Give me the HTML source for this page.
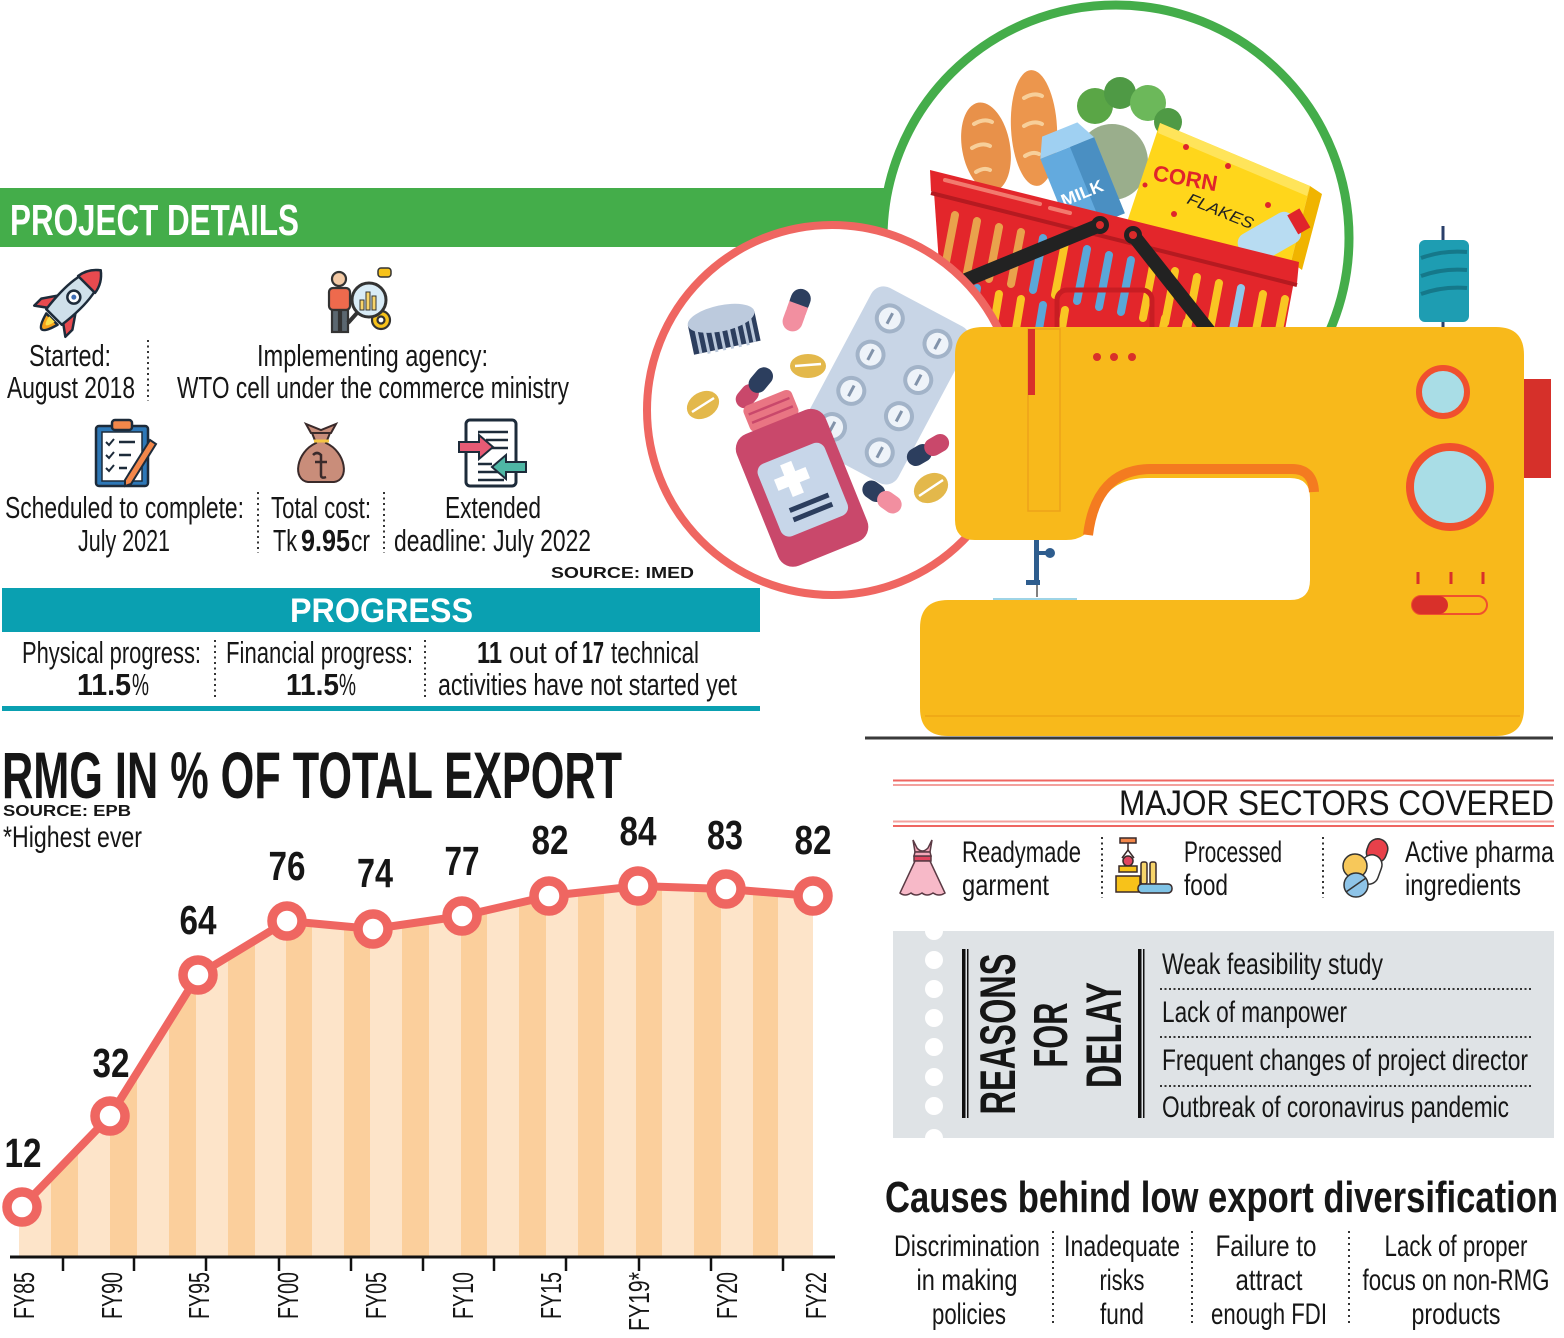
<!DOCTYPE html>
<html><head><meta charset="utf-8"><style>
html,body{margin:0;padding:0;background:#fff;}
svg{display:block;}
text{font-family:"Liberation Sans Narrow","Liberation Sans",sans-serif;fill:#161616;}
.b{font-weight:bold;}
.w{font-family:"Liberation Sans",sans-serif;}
</style></head><body>
<svg width="1564" height="1338" viewBox="0 0 1564 1338" xmlns="http://www.w3.org/2000/svg">
<defs>
<clipPath id="areaClip"><polygon points="19,1210 22,1207 110,1116 198,975 287,921 373,929 462,916 549,896 638,886 726,889 813,896 813,1256 19,1256"/></clipPath>
<clipPath id="coralClip"><circle cx="832" cy="410" r="181"/></clipPath>
<clipPath id="basketClip"><polygon points="931,190 1297,282 1284,335 944,335"/></clipPath>
</defs>

<!-- ===== PROJECT DETAILS header ===== -->
<rect x="0" y="188" width="886" height="59" fill="#44ad4a"/>
<text x="10" y="235" font-size="44" class="b" style="fill:#fff" textLength="289" lengthAdjust="spacingAndGlyphs">PROJECT DETAILS</text>

<!-- green circle -->
<circle cx="1116" cy="238" r="233" fill="#fff" stroke="#44ad4a" stroke-width="9"/>

<!-- basket contents (behind basket) -->
<ellipse cx="986" cy="147" rx="24" ry="45" transform="rotate(-10 986 147)" fill="#e8914a"/>
<path d="M974 124 q10 -6 18 -2 M972 148 q10 -6 18 -2 M976 172 q8 -5 14 -2" stroke="#f7cf9a" stroke-width="4" fill="none" stroke-linecap="round"/>
<ellipse cx="1034" cy="128" rx="23" ry="58" transform="rotate(-3 1034 128)" fill="#ec964d"/>
<path d="M1024 98 q10 -6 18 -2 M1024 126 q10 -6 18 -2 M1025 156 q8 -5 14 -2" stroke="#f7cf9a" stroke-width="4" fill="none" stroke-linecap="round"/>
<circle cx="1095" cy="106" r="18" fill="#5aa646"/>
<circle cx="1120" cy="93" r="16" fill="#4f9a45"/>
<circle cx="1148" cy="103" r="18" fill="#6cb85a"/>
<circle cx="1168" cy="122" r="14" fill="#4f9a45"/>
<ellipse cx="1112" cy="162" rx="36" ry="38" fill="#9aae8c"/>
<g transform="rotate(-22 1082 182)">
<rect x="1052" y="145" width="58" height="82" fill="#63aade"/>
<polygon points="1052,145 1110,145 1100,125 1062,125" fill="#9fd0f2"/>
<rect x="1084" y="145" width="26" height="82" fill="#4a8fc2"/>
<text x="1056" y="198" font-size="17" class="b w" style="fill:#fff" textLength="44" lengthAdjust="spacingAndGlyphs">MILK</text>
</g>
<polygon points="1160,123 1310,186 1291,262 1127,222" fill="#ffd61b"/>
<polygon points="1160,123 1310,186 1307,196 1158,133" fill="#ffe45a"/>
<polygon points="1310,186 1322,194 1302,270 1291,262" fill="#f0b400"/>
<text x="1152" y="180" font-size="22" class="b w" style="fill:#e0242b" transform="rotate(10 1152 180)" textLength="65" lengthAdjust="spacingAndGlyphs">CORN</text>
<text x="1186" y="203" font-size="16" font-style="italic" class="w" style="fill:#222" transform="rotate(22 1186 203)" textLength="70" lengthAdjust="spacingAndGlyphs">FLAKES</text>
<g fill="#e0242b"><circle cx="1186" cy="147" r="3"/><circle cx="1228" cy="166" r="3"/><circle cx="1145" cy="185" r="2.5"/><circle cx="1174" cy="214" r="3"/><circle cx="1268" cy="205" r="3"/></g>
<g transform="rotate(-30 1268 238)">
<rect x="1238" y="222" width="62" height="34" rx="10" fill="#b8dcf2"/>
<rect x="1296" y="228" width="14" height="22" fill="#e0242b"/>
</g>

<!-- basket -->
<polygon points="933,178 1296,270 1284,335 944,335" fill="#e3262b"/>
<g clip-path="url(#basketClip)" stroke-width="8" stroke-linecap="round">
 <line x1="955" y1="215" x2="945" y2="267" stroke="#e9a24c"/>
 <line x1="977" y1="221" x2="967" y2="273" stroke="#e9a24c"/>
 <line x1="999" y1="227" x2="989" y2="279" stroke="#e9a24c"/>
 <line x1="1021" y1="232" x2="1011" y2="284" stroke="#e9a24c"/>
 <line x1="1043" y1="238" x2="1033" y2="290" stroke="#5aa7d8"/>
 <line x1="1065" y1="243" x2="1055" y2="295" stroke="#f9c623"/>
 <line x1="1087" y1="249" x2="1077" y2="301" stroke="#5aa7d8"/>
 <line x1="1109" y1="255" x2="1099" y2="307" stroke="#5aa7d8"/>
 <line x1="1131" y1="260" x2="1121" y2="312" stroke="#5aa7d8"/>
 <line x1="1153" y1="266" x2="1143" y2="318" stroke="#f9c623"/>
 <line x1="1175" y1="271" x2="1165" y2="323" stroke="#f9c623"/>
 <line x1="1197" y1="277" x2="1187" y2="329" stroke="#f9c623"/>
 <line x1="1219" y1="283" x2="1209" y2="335" stroke="#f9c623"/>
 <line x1="1241" y1="288" x2="1231" y2="340" stroke="#8fc7ea"/>
 <line x1="1263" y1="294" x2="1253" y2="346" stroke="#f9c623"/>
 <line x1="1285" y1="299" x2="1275" y2="351" stroke="#f9c623"/>
 <line x1="955" y1="282" x2="947" y2="330" stroke="#f9c623"/>
 <line x1="977" y1="288" x2="969" y2="336" stroke="#5aa7d8"/>
 <line x1="999" y1="294" x2="991" y2="342" stroke="#f9c623"/>
 <line x1="1021" y1="299" x2="1013" y2="347" stroke="#f9c623"/>
 <line x1="1043" y1="305" x2="1035" y2="353" stroke="#5aa7d8"/>
 <line x1="1065" y1="310" x2="1057" y2="358" stroke="#f9c623"/>
 <line x1="1165" y1="318" x2="1157" y2="358" stroke="#f9c623"/>
 <line x1="1187" y1="322" x2="1179" y2="358" stroke="#f9c623"/>
</g>
<rect x="1057" y="290" width="95" height="50" rx="10" fill="none" stroke="#c81d23" stroke-width="5"/>
<polygon points="930,170 1299,262 1297,283 931,191" fill="#e3262b"/>
<line x1="931" y1="193" x2="1297" y2="285" stroke="#b51a20" stroke-width="4"/>
<line x1="945" y1="180" x2="1040" y2="204" stroke="#f27a6e" stroke-width="4" stroke-linecap="round"/>
<line x1="1050" y1="208" x2="1070" y2="213" stroke="#f27a6e" stroke-width="4" stroke-linecap="round"/>
<line x1="966" y1="280" x2="1100" y2="225" stroke="#222" stroke-width="14" stroke-linecap="round"/>
<line x1="1133" y1="235" x2="1212" y2="335" stroke="#222" stroke-width="14" stroke-linecap="round"/>
<circle cx="1100" cy="225" r="9" fill="#222"/><circle cx="1100" cy="225" r="4" fill="#d92b2b"/>
<circle cx="1133" cy="235" r="9" fill="#222"/><circle cx="1133" cy="235" r="4" fill="#d92b2b"/>

<!-- coral circle (on top of basket) -->
<circle cx="832" cy="410" r="185" fill="#fff" stroke="#ef6661" stroke-width="8"/>
<g clip-path="url(#coralClip)">
 <g transform="rotate(28 885 385)">
  <rect x="830" y="297" width="110" height="177" rx="14" fill="#c8d5e6"/>
  <g fill="#eef3f9" stroke="#a2b3c8" stroke-width="4">
   <circle cx="858" cy="324" r="13"/><circle cx="912" cy="324" r="13"/>
   <circle cx="858" cy="365" r="13"/><circle cx="912" cy="365" r="13"/>
   <circle cx="858" cy="406" r="13"/><circle cx="912" cy="406" r="13"/>
   <circle cx="858" cy="447" r="13"/><circle cx="912" cy="447" r="13"/>
  </g>
  <g stroke="#8293aa" stroke-width="3"><line x1="858" y1="318" x2="858" y2="330"/><line x1="912" y1="318" x2="912" y2="330"/><line x1="858" y1="359" x2="858" y2="371"/><line x1="912" y1="359" x2="912" y2="371"/><line x1="858" y1="400" x2="858" y2="412"/><line x1="912" y1="400" x2="912" y2="412"/><line x1="858" y1="441" x2="858" y2="453"/><line x1="912" y1="441" x2="912" y2="453"/></g>
 </g>
 <g transform="rotate(-12 724 332)">
  <rect x="690" y="318" width="68" height="30" fill="#2c3e5e"/>
  <g stroke="#b9c7da" stroke-width="3"><line x1="697" y1="324" x2="697" y2="348"/><line x1="705" y1="326" x2="705" y2="350"/><line x1="713" y1="326" x2="713" y2="350"/><line x1="721" y1="326" x2="721" y2="350"/><line x1="729" y1="326" x2="729" y2="350"/><line x1="737" y1="326" x2="737" y2="350"/><line x1="745" y1="326" x2="745" y2="350"/><line x1="752" y1="324" x2="752" y2="348"/></g>
  <ellipse cx="724" cy="318" rx="34" ry="13" fill="#bccadd"/>
 </g>
 <g transform="rotate(20 796 312)"><rect x="786" y="288" width="20" height="24" rx="10" fill="#2c3e5e"/><rect x="786" y="304" width="20" height="28" rx="10" fill="#f28fa0"/><rect x="786" y="304" width="20" height="8" fill="#f28fa0"/></g>
 <g transform="rotate(-50 755 387)"><rect x="730" y="378" width="26" height="18" rx="9" fill="#c9486b"/><rect x="750" y="378" width="28" height="18" rx="9" fill="#2c3e5e"/></g>
 <g transform="rotate(-30 928 450)"><rect x="905" y="441" width="26" height="18" rx="9" fill="#2c3e5e"/><rect x="925" y="441" width="26" height="18" rx="9" fill="#c9486b"/></g>
 <g transform="rotate(35 882 497)"><rect x="860" y="488" width="24" height="18" rx="9" fill="#2c3e5e"/><rect x="878" y="488" width="26" height="18" rx="9" fill="#f28fa0"/></g>
 <ellipse cx="808" cy="366" rx="18" ry="12" fill="#e3b84b"/><line x1="795" y1="366" x2="821" y2="364" stroke="#fff" stroke-width="2.5"/>
 <ellipse cx="703" cy="405" rx="17" ry="13" transform="rotate(-30 703 405)" fill="#e3b84b"/><line x1="692" y1="412" x2="714" y2="398" stroke="#fff" stroke-width="2.5"/>
 <ellipse cx="931" cy="488" rx="18" ry="14" transform="rotate(-30 931 488)" fill="#e3b84b"/><line x1="919" y1="496" x2="943" y2="480" stroke="#fff" stroke-width="2.5"/>
 <g transform="rotate(-22 797 478)">
  <rect x="772" y="392" width="52" height="28" rx="6" fill="#e97583"/>
  <g stroke="#c9486b" stroke-width="2.5"><line x1="776" y1="401" x2="820" y2="401"/><line x1="776" y1="410" x2="820" y2="410"/></g>
  <rect x="750" y="418" width="96" height="142" rx="16" fill="#c9486b"/>
  <rect x="762" y="452" width="72" height="78" rx="9" fill="#c7d6e9"/>
  <rect x="786" y="460" width="12" height="34" fill="#fff"/><rect x="775" y="471" width="34" height="12" fill="#fff"/>
  <rect x="778" y="503" width="42" height="5" fill="#2c3e5e"/><rect x="778" y="513" width="42" height="5" fill="#2c3e5e"/>
 </g>
</g>

<!-- spool -->
<line x1="1443" y1="226" x2="1443" y2="332" stroke="#2a3f6a" stroke-width="3"/>
<rect x="1419" y="240" width="50" height="82" rx="6" fill="#1e9db2"/>
<path d="M1421 258 q22 -8 46 -6 M1421 276 q22 -8 46 -6 M1421 294 q22 -8 46 -6" stroke="#15788a" stroke-width="4" fill="none"/>

<!-- sewing machine -->
<path d="M983 327 L1496 327 Q1524 327 1524 355 L1524 708 Q1524 736 1496 736 L948 736 Q920 736 920 708 L920 628 Q920 600 948 600 L1290 600 Q1310 600 1310 580 L1310 498 Q1310 478 1290 478 L1148 478 Q1104 478 1094 520 Q1088 540 1066 540 L975 540 Q955 540 955 520 L955 355 Q955 327 983 327 Z" fill="#f8b91b"/>
<path d="M1088 535 Q1096 470 1150 469 L1292 469 Q1313 469 1314 492" stroke="#f47b20" stroke-width="10" fill="none"/>
<rect x="1028" y="329" width="32" height="182" fill="none" stroke="#eea21a" stroke-width="1.5"/>
<rect x="1028" y="329" width="7" height="66" fill="#d9302a"/>
<line x1="925" y1="716" x2="1520" y2="716" stroke="#eea515" stroke-width="1.5"/>
<circle cx="1097" cy="357" r="4" fill="#d9302a"/><circle cx="1114" cy="357" r="4" fill="#d9302a"/><circle cx="1132" cy="357" r="4" fill="#d9302a"/>
<circle cx="1443" cy="392" r="24" fill="#a9dde6" stroke="#f0502e" stroke-width="6"/>
<circle cx="1450" cy="487" r="40" fill="#a9dde6" stroke="#f0502e" stroke-width="8"/>
<rect x="1524" y="379" width="27" height="99" fill="#d6302a"/>
<g stroke="#d9302a" stroke-width="3"><line x1="1418" y1="572" x2="1418" y2="584"/><line x1="1451" y1="572" x2="1451" y2="584"/><line x1="1483" y1="572" x2="1483" y2="584"/></g>
<rect x="1412" y="596" width="75" height="18" rx="9" fill="none" stroke="#f0502e" stroke-width="2"/>
<rect x="1412" y="596" width="36" height="18" rx="9" fill="#d9302a"/>
<rect x="1034" y="540" width="5" height="44" fill="#2e5d8e"/>
<line x1="1036" y1="553" x2="1048" y2="553" stroke="#2e5d8e" stroke-width="4"/>
<circle cx="1050" cy="553" r="5" fill="#2e5d8e"/>
<rect x="1026" y="580" width="14" height="5" fill="#2e5d8e"/>
<line x1="1037" y1="585" x2="1037" y2="597" stroke="#555" stroke-width="1.5"/>
<line x1="993" y1="599" x2="1077" y2="599" stroke="#9ed4e6" stroke-width="2"/>
<line x1="865" y1="738" x2="1553" y2="738" stroke="#3a3a3a" stroke-width="3"/>

<!-- ===== icons row 1 ===== -->
<g transform="translate(71 300) rotate(45)" stroke="#1d2b3a" stroke-width="2.5" stroke-linejoin="round">
 <path d="M-8 27 Q0 56 8 27 Z" fill="#f6a21b"/>
 <path d="M-4 27 Q0 44 4 27 Z" fill="#fbe04a" stroke="none"/>
 <path d="M-11 4 L-22 20 L-22 30 L-11 22 Z" fill="#e84a4f"/>
 <path d="M11 4 L22 20 L22 30 L11 22 Z" fill="#e84a4f"/>
 <path d="M0 -42 C15 -30 14 0 11 24 L-11 24 C-14 0 -15 -30 0 -42 Z" fill="#cfe0ea"/>
 <path d="M0 -42 C8 -36 11 -29 12 -22 L-12 -22 C-11 -29 -8 -36 0 -42 Z" fill="#e84a4f"/>
 <circle cx="0" cy="-4" r="6.5" fill="#fff"/>
 <circle cx="0" cy="-4" r="2.5" fill="#3e6db5" stroke="none"/>
</g>
<g stroke="#333" stroke-width="2.2">
 <circle cx="339" cy="279" r="7" fill="#f3c9a5"/>
 <rect x="329" y="288" width="21" height="22" rx="4" fill="#ee6a4d"/>
 <rect x="332" y="310" width="7" height="22" fill="#5b6770"/>
 <rect x="341" y="310" width="7" height="22" fill="#5b6770"/>
 <line x1="357" y1="313" x2="348" y2="323" stroke-width="4"/>
 <circle cx="381" cy="320" r="9" fill="#f7c21a"/>
 <circle cx="381" cy="320" r="3.5" fill="#fff"/>
 <circle cx="369" cy="300" r="17" fill="#d9ecf7" stroke-width="3"/>
 <rect x="378" y="268" width="13" height="9" rx="3" fill="#f7c21a" stroke-width="1.5"/>
</g>
<g fill="#f7d46a" stroke="#333" stroke-width="1"><rect x="360" y="300" width="4" height="10"/><rect x="366" y="292" width="4" height="18"/><rect x="372" y="296" width="4" height="14"/></g>

<!-- ===== text row 1 ===== -->
<text x="29" y="366" font-size="31" textLength="82" lengthAdjust="spacingAndGlyphs">Started:</text>
<text x="7" y="398" font-size="31" textLength="128" lengthAdjust="spacingAndGlyphs">August 2018</text>
<line x1="148" y1="340" x2="148" y2="401" stroke="#333" stroke-width="2" stroke-dasharray="2 3.5"/>
<text x="257" y="366" font-size="31" textLength="231" lengthAdjust="spacingAndGlyphs">Implementing agency:</text>
<text x="177" y="398" font-size="31" textLength="392" lengthAdjust="spacingAndGlyphs">WTO cell under the commerce ministry</text>

<!-- ===== icons row 2 ===== -->
<g stroke="#1d2b3a" stroke-width="2.5">
 <rect x="96" y="426" width="52" height="60" rx="3" fill="#2e78b7"/>
 <rect x="102" y="432" width="40" height="49" fill="#fff" stroke-width="1.5"/>
 <rect x="112" y="420" width="20" height="10" rx="3" fill="#f3874a"/>
 <path d="M106 442 l3 3 l5 -6 M106 455 l3 3 l5 -6 M106 468 l3 3 l5 -6" fill="none" stroke-width="2"/>
 <path d="M119 442 h16 M119 455 h12 M119 468 h8" fill="none" stroke-width="2.5"/>
 <path d="M150 440 L156 444 L131 484 L125 486 L125 480 Z" fill="#f3874a" stroke-width="2"/>
</g>
<g stroke="#3a2a2a" stroke-width="2">
 <path d="M311 433 L306 424 L321 430 L336 424 L331 433 Z" fill="#c98d7a"/>
 <path d="M312 433 L330 433 L326 443 C346 452 350 480 334 482 L308 482 C292 480 296 452 316 443 Z" fill="#c98d7a"/>
 <line x1="314" y1="441" x2="329" y2="441" stroke="#f4c542" stroke-width="3"/>
 <path d="M313 455 q4 -4 8 0 v20 q0 4 5 2 M315 462 h12" fill="none" stroke-width="2.5"/>
</g>
<g stroke="#1d2b3a" stroke-width="2.5">
 <rect x="466" y="420" width="50" height="66" rx="4" fill="#fff" stroke-width="3"/>
 <path d="M478 432 h30 M486 440 h22 M490 448 h18 M478 464 h14 M478 472 h22 M478 480 h26" fill="none"/>
 <path d="M459 442 h20 v-7 l14 12 l-14 12 v-7 h-20 Z" fill="#e75b75" stroke-width="2"/>
 <path d="M526 462 h-20 v-7 l-14 12 l14 12 v-7 h20 Z" fill="#4fb7a5" stroke-width="2"/>
</g>

<!-- ===== text row 2 ===== -->
<text x="5" y="518" font-size="31" textLength="239" lengthAdjust="spacingAndGlyphs">Scheduled to complete:</text>
<text x="78" y="551" font-size="31" textLength="92" lengthAdjust="spacingAndGlyphs">July 2021</text>
<line x1="258" y1="492" x2="258" y2="553" stroke="#333" stroke-width="2" stroke-dasharray="2 3.5"/>
<text x="271" y="518" font-size="31" textLength="100" lengthAdjust="spacingAndGlyphs">Total cost:</text>
<text x="273" y="551" font-size="31" textLength="24" lengthAdjust="spacingAndGlyphs">Tk</text>
<text x="301" y="551" font-size="31" class="b" textLength="49" lengthAdjust="spacingAndGlyphs">9.95</text>
<text x="351" y="551" font-size="31" textLength="19" lengthAdjust="spacingAndGlyphs">cr</text>
<line x1="384" y1="492" x2="384" y2="553" stroke="#333" stroke-width="2" stroke-dasharray="2 3.5"/>
<text x="445" y="518" font-size="31" textLength="96" lengthAdjust="spacingAndGlyphs">Extended</text>
<text x="394" y="551" font-size="31" textLength="197" lengthAdjust="spacingAndGlyphs">deadline: July 2022</text>
<text x="551" y="578" font-size="16" class="b w" textLength="143" lengthAdjust="spacingAndGlyphs">SOURCE: IMED</text>

<!-- ===== PROGRESS ===== -->
<rect x="2" y="588" width="758" height="44" fill="#0aa0b1"/>
<text x="290" y="622" font-size="34" class="b" style="fill:#fff" textLength="183" lengthAdjust="spacingAndGlyphs">PROGRESS</text>
<text x="22" y="663" font-size="31" textLength="179" lengthAdjust="spacingAndGlyphs">Physical progress:</text>
<text x="77" y="695" font-size="31" class="b" textLength="54" lengthAdjust="spacingAndGlyphs">11.5</text>
<text x="132" y="695" font-size="31" textLength="17" lengthAdjust="spacingAndGlyphs">%</text>
<line x1="215" y1="640" x2="215" y2="699" stroke="#333" stroke-width="2" stroke-dasharray="2 3.5"/>
<text x="226" y="663" font-size="31" textLength="187" lengthAdjust="spacingAndGlyphs">Financial progress:</text>
<text x="286" y="695" font-size="31" class="b" textLength="53" lengthAdjust="spacingAndGlyphs">11.5</text>
<text x="339" y="695" font-size="31" textLength="17" lengthAdjust="spacingAndGlyphs">%</text>
<line x1="425" y1="640" x2="425" y2="699" stroke="#333" stroke-width="2" stroke-dasharray="2 3.5"/>
<text x="477" y="663" font-size="31" class="b" textLength="25" lengthAdjust="spacingAndGlyphs">11</text>
<text x="509" y="663" font-size="31" textLength="68" lengthAdjust="spacingAndGlyphs">out of</text>
<text x="582" y="663" font-size="31" class="b" textLength="22" lengthAdjust="spacingAndGlyphs">17</text>
<text x="611" y="663" font-size="31" textLength="88" lengthAdjust="spacingAndGlyphs">technical</text>
<text x="438" y="695" font-size="31" textLength="299" lengthAdjust="spacingAndGlyphs">activities have not started yet</text>
<rect x="2" y="706" width="758" height="5" fill="#0aa0b1"/>

<!-- ===== CHART ===== -->
<text x="2" y="798" font-size="66" class="b" textLength="620" lengthAdjust="spacingAndGlyphs">RMG IN % OF TOTAL EXPORT</text>
<text x="3" y="816" font-size="16" class="b w" textLength="128" lengthAdjust="spacingAndGlyphs">SOURCE: EPB</text>
<text x="3" y="847" font-size="30" textLength="139" lengthAdjust="spacingAndGlyphs">*Highest ever</text>

<g clip-path="url(#areaClip)">
 <rect x="0" y="860" width="840" height="400" fill="#fde4c9"/>
 <g fill="#fbcf9c">
  <rect x="51" y="860" width="27" height="400"/><rect x="110" y="860" width="27" height="400"/>
  <rect x="169" y="860" width="27" height="400"/><rect x="228" y="860" width="27" height="400"/>
  <rect x="286" y="860" width="26" height="400"/><rect x="344" y="860" width="26" height="400"/>
  <rect x="402" y="860" width="27" height="400"/><rect x="461" y="860" width="26" height="400"/>
  <rect x="519" y="860" width="27" height="400"/><rect x="578" y="860" width="26" height="400"/>
  <rect x="636" y="860" width="26" height="400"/><rect x="694" y="860" width="27" height="400"/>
  <rect x="753" y="860" width="25" height="400"/>
 </g>
</g>
<polyline points="22,1207 110,1116 198,975 287,921 373,929 462,916 549,896 638,886 726,889 813,896" fill="none" stroke="#ef6661" stroke-width="8" stroke-linejoin="round"/>
<g fill="#fff" stroke="#ef6661" stroke-width="9.5">
 <circle cx="22" cy="1207" r="15"/><circle cx="110" cy="1116" r="15"/><circle cx="198" cy="975" r="15"/>
 <circle cx="287" cy="921" r="15"/><circle cx="373" cy="929" r="15"/><circle cx="462" cy="916" r="15"/>
 <circle cx="549" cy="896" r="15"/><circle cx="638" cy="886" r="15"/><circle cx="726" cy="889" r="15"/>
 <circle cx="813" cy="896" r="15"/>
</g>
<g font-size="41" class="b" text-anchor="middle">
 <text x="23" y="1167" textLength="37" lengthAdjust="spacingAndGlyphs">12</text>
 <text x="111" y="1077" textLength="37" lengthAdjust="spacingAndGlyphs">32</text>
 <text x="198" y="934" textLength="37" lengthAdjust="spacingAndGlyphs">64</text>
 <text x="287" y="880" textLength="37" lengthAdjust="spacingAndGlyphs">76</text>
 <text x="375" y="887" textLength="36" lengthAdjust="spacingAndGlyphs">74</text>
 <text x="462" y="875" textLength="35" lengthAdjust="spacingAndGlyphs">77</text>
 <text x="550" y="854" textLength="37" lengthAdjust="spacingAndGlyphs">82</text>
 <text x="638" y="845" textLength="37" lengthAdjust="spacingAndGlyphs">84</text>
 <text x="725" y="849" textLength="36" lengthAdjust="spacingAndGlyphs">83</text>
 <text x="813" y="854" textLength="37" lengthAdjust="spacingAndGlyphs">82</text>
</g>
<line x1="10" y1="1257" x2="835" y2="1257" stroke="#111" stroke-width="3"/>
<g stroke="#111" stroke-width="2.5">
 <line x1="63" y1="1257" x2="63" y2="1271"/><line x1="134" y1="1257" x2="134" y2="1271"/>
 <line x1="206" y1="1257" x2="206" y2="1271"/><line x1="279" y1="1257" x2="279" y2="1271"/>
 <line x1="351" y1="1257" x2="351" y2="1271"/><line x1="423" y1="1257" x2="423" y2="1271"/>
 <line x1="494" y1="1257" x2="494" y2="1271"/><line x1="566" y1="1257" x2="566" y2="1271"/>
 <line x1="639" y1="1257" x2="639" y2="1271"/><line x1="711" y1="1257" x2="711" y2="1271"/>
 <line x1="783" y1="1257" x2="783" y2="1271"/>
</g>
<g font-size="29" class="w">
 <text transform="translate(34 1319) rotate(-90)" textLength="47" lengthAdjust="spacingAndGlyphs">FY85</text>
 <text transform="translate(122 1319) rotate(-90)" textLength="47" lengthAdjust="spacingAndGlyphs">FY90</text>
 <text transform="translate(209 1319) rotate(-90)" textLength="47" lengthAdjust="spacingAndGlyphs">FY95</text>
 <text transform="translate(298 1319) rotate(-90)" textLength="47" lengthAdjust="spacingAndGlyphs">FY00</text>
 <text transform="translate(386 1319) rotate(-90)" textLength="47" lengthAdjust="spacingAndGlyphs">FY05</text>
 <text transform="translate(473 1319) rotate(-90)" textLength="47" lengthAdjust="spacingAndGlyphs">FY10</text>
 <text transform="translate(561 1319) rotate(-90)" textLength="47" lengthAdjust="spacingAndGlyphs">FY15</text>
 <text transform="translate(649 1331) rotate(-90)" textLength="59" lengthAdjust="spacingAndGlyphs">FY19*</text>
 <text transform="translate(737 1319) rotate(-90)" textLength="47" lengthAdjust="spacingAndGlyphs">FY20</text>
 <text transform="translate(826 1319) rotate(-90)" textLength="47" lengthAdjust="spacingAndGlyphs">FY22</text>
</g>

<!-- ===== MAJOR SECTORS ===== -->
<line x1="893" y1="780.5" x2="1554" y2="780.5" stroke="#ef6661" stroke-width="2"/>
<line x1="893" y1="785" x2="1554" y2="785" stroke="#f3a19d" stroke-width="2"/>
<text x="1119" y="815" font-size="35" textLength="435" lengthAdjust="spacingAndGlyphs">MAJOR SECTORS COVERED</text>
<line x1="893" y1="821.5" x2="1554" y2="821.5" stroke="#f3a19d" stroke-width="2"/>
<line x1="893" y1="826" x2="1554" y2="826" stroke="#ef6661" stroke-width="2"/>

<g stroke="#5a3a44" stroke-width="1.5">
 <path d="M913 840 L915 852 L930 852 L932 840 L928 848 Q922 854 917 848 Z" fill="#f5a9bb"/>
 <rect x="914" y="856" width="17" height="5" fill="#e0455f"/>
 <path d="M915 861 L930 861 L945 893 Q939 897 933 893 Q927 897 922 893 Q916 897 911 893 Q905 897 900 893 Z" fill="#f7b9c8"/>
 <path d="M915 852 L930 852 L931 856 L914 856 Z" fill="#f5a9bb"/>
</g>
<text x="962" y="862" font-size="30" textLength="119" lengthAdjust="spacingAndGlyphs">Readymade</text>
<text x="962" y="895" font-size="30" textLength="87" lengthAdjust="spacingAndGlyphs">garment</text>
<line x1="1102" y1="837" x2="1102" y2="898" stroke="#333" stroke-width="2" stroke-dasharray="2 3.5"/>
<g stroke="#3a2a2a" stroke-width="1.5">
 <rect x="1120" y="838" width="16" height="5" fill="#f3874a"/>
 <line x1="1128" y1="843" x2="1128" y2="850"/>
 <path d="M1122 858 L1128 850 L1134 858" fill="none"/>
 <circle cx="1128" cy="861" r="5" fill="#e0455f"/>
 <rect x="1119" y="866" width="18" height="6" fill="#f7c21a"/>
 <rect x="1116" y="876" width="24" height="16" fill="#f7c21a"/>
 <rect x="1141" y="862" width="6" height="22" rx="2" fill="#f7d46a"/>
 <rect x="1150" y="862" width="6" height="22" rx="2" fill="#f7d46a"/>
 <rect x="1138" y="884" width="34" height="9" rx="4" fill="#7fc3e6"/>
</g>
<text x="1184" y="862" font-size="30" textLength="98" lengthAdjust="spacingAndGlyphs">Processed</text>
<text x="1184" y="895" font-size="30" textLength="44" lengthAdjust="spacingAndGlyphs">food</text>
<line x1="1323" y1="837" x2="1323" y2="898" stroke="#333" stroke-width="2" stroke-dasharray="2 3.5"/>
<g stroke="#333" stroke-width="1.5">
 <g transform="rotate(20 1373 862)"><rect x="1363" y="838" width="20" height="24" rx="10" fill="#e8404a"/><rect x="1363" y="855" width="20" height="30" rx="10" fill="#fff"/></g>
 <circle cx="1355" cy="866" r="12" fill="#f7c85a"/>
 <circle cx="1356" cy="885" r="12" fill="#8ec4e8"/>
 <line x1="1346" y1="892" x2="1366" y2="878"/>
</g>
<text x="1405" y="862" font-size="30" textLength="149" lengthAdjust="spacingAndGlyphs">Active pharma</text>
<text x="1405" y="895" font-size="30" textLength="116" lengthAdjust="spacingAndGlyphs">ingredients</text>

<!-- ===== REASONS FOR DELAY ===== -->
<rect x="893" y="931" width="661" height="207" fill="#dfe3e6"/>
<g fill="#fff">
 <circle cx="934" cy="931" r="9"/><circle cx="934" cy="960" r="9"/><circle cx="934" cy="989" r="9"/>
 <circle cx="934" cy="1018" r="9"/><circle cx="934" cy="1047" r="9"/><circle cx="934" cy="1077" r="9"/>
 <circle cx="934" cy="1106" r="9"/><circle cx="934" cy="1138" r="9"/>
</g>
<rect x="962" y="949" width="3.5" height="169" fill="#111"/>
<rect x="967" y="949" width="1.5" height="169" fill="#111"/>
<rect x="1138" y="949" width="3.5" height="169" fill="#111"/>
<rect x="1143" y="949" width="1.5" height="169" fill="#111"/>
<g class="b w" text-anchor="middle">
 <text transform="translate(1015 1034) rotate(-90)" font-size="50" textLength="161" lengthAdjust="spacingAndGlyphs">REASONS</text>
 <text transform="translate(1067 1035) rotate(-90)" font-size="48" textLength="65" lengthAdjust="spacingAndGlyphs">FOR</text>
 <text transform="translate(1121 1035) rotate(-90)" font-size="50" textLength="106" lengthAdjust="spacingAndGlyphs">DELAY</text>
</g>
<text x="1162" y="974" font-size="30" textLength="221" lengthAdjust="spacingAndGlyphs">Weak feasibility study</text>
<line x1="1160" y1="989" x2="1533" y2="989" stroke="#333" stroke-width="2" stroke-dasharray="2 2.5"/>
<text x="1162" y="1022" font-size="30" textLength="185" lengthAdjust="spacingAndGlyphs">Lack of manpower</text>
<line x1="1160" y1="1037" x2="1533" y2="1037" stroke="#333" stroke-width="2" stroke-dasharray="2 2.5"/>
<text x="1162" y="1070" font-size="30" textLength="366" lengthAdjust="spacingAndGlyphs">Frequent changes of project director</text>
<line x1="1160" y1="1086" x2="1533" y2="1086" stroke="#333" stroke-width="2" stroke-dasharray="2 2.5"/>
<text x="1162" y="1117" font-size="30" textLength="347" lengthAdjust="spacingAndGlyphs">Outbreak of coronavirus pandemic</text>

<!-- ===== CAUSES ===== -->
<text x="885" y="1212" font-size="44" class="b" textLength="673" lengthAdjust="spacingAndGlyphs">Causes behind low export diversification</text>
<g font-size="30" text-anchor="middle">
 <text x="967" y="1256" textLength="146" lengthAdjust="spacingAndGlyphs">Discrimination</text>
 <text x="967" y="1290" textLength="101" lengthAdjust="spacingAndGlyphs">in making</text>
 <text x="969" y="1324" textLength="74" lengthAdjust="spacingAndGlyphs">policies</text>
 <text x="1122" y="1256" textLength="116" lengthAdjust="spacingAndGlyphs">Inadequate</text>
 <text x="1122" y="1290" textLength="45" lengthAdjust="spacingAndGlyphs">risks</text>
 <text x="1122" y="1324" textLength="44" lengthAdjust="spacingAndGlyphs">fund</text>
 <text x="1266" y="1256" textLength="101" lengthAdjust="spacingAndGlyphs">Failure to</text>
 <text x="1269" y="1290" textLength="67" lengthAdjust="spacingAndGlyphs">attract</text>
 <text x="1269" y="1324" textLength="116" lengthAdjust="spacingAndGlyphs">enough FDI</text>
 <text x="1456" y="1256" textLength="143" lengthAdjust="spacingAndGlyphs">Lack of proper</text>
 <text x="1456" y="1290" textLength="187" lengthAdjust="spacingAndGlyphs">focus on non-RMG</text>
 <text x="1456" y="1324" textLength="89" lengthAdjust="spacingAndGlyphs">products</text>
</g>
<line x1="1053" y1="1231" x2="1053" y2="1325" stroke="#333" stroke-width="2" stroke-dasharray="2 4"/>
<line x1="1192" y1="1231" x2="1192" y2="1325" stroke="#333" stroke-width="2" stroke-dasharray="2 4"/>
<line x1="1349" y1="1231" x2="1349" y2="1325" stroke="#333" stroke-width="2" stroke-dasharray="2 4"/>
</svg>
</body></html>
